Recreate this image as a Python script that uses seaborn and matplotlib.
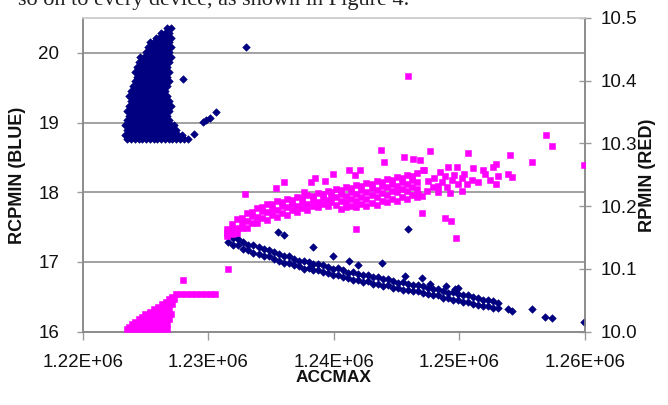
import matplotlib
matplotlib.use("Agg")
import matplotlib.pyplot as plt
import pandas as pd
import seaborn as sns

# ---------------- data (x in thousands of ACCMAX) ----------------
# Blue (RCPMIN, left axis): dense cluster, read row by row
BLUE_BLOB_Y = [20.36, 20.29, 20.22, 20.15, 20.08, 20.01, 19.94, 19.87, 19.80, 19.73,
               19.66, 19.59, 19.52, 19.45, 19.38, 19.31, 19.24, 19.17, 19.10, 19.03,
               18.96, 18.89, 18.82, 18.76]
BLUE_BLOB_X = [
    [1226.7, 1227.0],
    [1226.25, 1226.55, 1226.85],
    [1225.8, 1226.1, 1226.4, 1226.7, 1227.0],
    [1225.35, 1225.65, 1225.95, 1226.25, 1226.55, 1226.85],
    [1225.2, 1225.5, 1225.8, 1226.1, 1226.4, 1226.7, 1227.0],
    [1225.05, 1225.35, 1225.65, 1225.95, 1226.25, 1226.55, 1226.85],
    [1224.6, 1224.9, 1225.2, 1225.5, 1225.8, 1226.1, 1226.4, 1226.7, 1227.0],
    [1224.45, 1224.75, 1225.05, 1225.35, 1225.65, 1225.95, 1226.25, 1226.55, 1226.85],
    [1224.3, 1224.6, 1224.9, 1225.2, 1225.5, 1225.8, 1226.1, 1226.4, 1226.7],
    [1224.15, 1224.45, 1224.75, 1225.05, 1225.35, 1225.65, 1225.95, 1226.25, 1226.55, 1226.85],
    [1224.3, 1224.6, 1224.9, 1225.2, 1225.5, 1225.8, 1226.1, 1226.4, 1226.7],
    [1224.15, 1224.45, 1224.75, 1225.05, 1225.35, 1225.65, 1225.95, 1226.25, 1226.55, 1226.85],
    [1224.0, 1224.3, 1224.6, 1224.9, 1225.2, 1225.5, 1225.8, 1226.1, 1226.4, 1226.7],
    [1223.85, 1224.15, 1224.45, 1224.75, 1225.05, 1225.35, 1225.65, 1225.95, 1226.25, 1226.55],
    [1223.7, 1224.0, 1224.3, 1224.6, 1224.9, 1225.2, 1225.5, 1225.8, 1226.1, 1226.4, 1226.7],
    [1223.85, 1224.15, 1224.45, 1224.75, 1225.05, 1225.35, 1225.65, 1225.95, 1226.25, 1226.55, 1226.85],
    [1223.7, 1224.0, 1224.3, 1224.6, 1224.9, 1225.2, 1225.5, 1225.8, 1226.1, 1226.4, 1226.7, 1227.0],
    [1223.55, 1223.85, 1224.15, 1224.45, 1224.75, 1225.05, 1225.35, 1225.65, 1225.95, 1226.25, 1226.55, 1226.85],
    [1223.7, 1224.0, 1224.3, 1224.6, 1224.9, 1225.2, 1225.5, 1225.8, 1226.1, 1226.4, 1226.7],
    [1223.55, 1223.85, 1224.15, 1224.45, 1224.75, 1225.05, 1225.35, 1225.65, 1225.95, 1226.25, 1226.55, 1226.85],
    [1223.4, 1223.7, 1224.0, 1224.3, 1224.6, 1224.9, 1225.2, 1225.5, 1225.8, 1226.1, 1226.4, 1226.7, 1227.0, 1227.3],
    [1223.55, 1223.85, 1224.15, 1224.45, 1224.75, 1225.05, 1225.35, 1225.65, 1225.95, 1226.25, 1226.55, 1226.85, 1227.15, 1227.45],
    [1223.4, 1223.7, 1224.0, 1224.3, 1224.6, 1224.9, 1225.2, 1225.5, 1225.8, 1226.1, 1226.4, 1226.7, 1227.0, 1227.3, 1227.6, 1227.9],
    [1223.55, 1223.85, 1224.15, 1224.45, 1224.75, 1225.05, 1225.35, 1225.65, 1225.95, 1226.25, 1226.55, 1226.85, 1227.15, 1227.45, 1227.75, 1228.05, 1228.35],
]

# Blue descending band: x, upper and lower point of each column
BLUE_BAND_X = [1231.6, 1232.0, 1232.4, 1232.8, 1233.2, 1233.6, 1234.0, 1234.4, 1234.8, 1235.2,
               1235.6, 1236.0, 1236.4, 1236.8, 1237.2, 1237.6, 1238.0, 1238.3, 1238.7, 1239.1,
               1239.5, 1239.9, 1240.3, 1240.7, 1241.1, 1241.5, 1241.9, 1242.3, 1242.7, 1243.1,
               1243.5, 1243.9, 1244.3, 1244.7, 1245.1, 1245.5, 1245.9, 1246.3, 1246.7, 1247.1,
               1247.5, 1247.9, 1248.3, 1248.7, 1249.1, 1249.5, 1249.9, 1250.3, 1250.7, 1251.1,
               1251.5, 1251.9, 1252.3, 1252.7, 1253.1]
BLUE_BAND_HI = [17.38, 17.34, 17.33, 17.29, 17.24, 17.25, 17.21, 17.18, 17.17, 17.14,
                17.11, 17.08, 17.08, 17.05, 17.01, 17.02, 17.00, 16.97, 16.97, 16.95,
                16.93, 16.90, 16.91, 16.88, 16.84, 16.86, 16.83, 16.81, 16.82, 16.79,
                16.78, 16.75, 16.76, 16.73, 16.70, 16.72, 16.69, 16.67, 16.67, 16.65,
                16.63, 16.61, 16.61, 16.59, 16.56, 16.57, 16.54, 16.52, 16.52, 16.50,
                16.48, 16.46, 16.46, 16.44, 16.41]
BLUE_BAND_LO = [17.29, 17.25, 17.24, 17.19, 17.17, 17.13, 17.12, 17.09, 17.08, 17.04,
                17.02, 16.99, 16.99, 16.95, 16.94, 16.90, 16.91, 16.88, 16.88, 16.85,
                16.84, 16.81, 16.82, 16.78, 16.77, 16.74, 16.74, 16.72, 16.73, 16.69,
                16.69, 16.66, 16.67, 16.63, 16.63, 16.60, 16.60, 16.58, 16.58, 16.55,
                16.54, 16.52, 16.52, 16.49, 16.49, 16.45, 16.45, 16.43, 16.43, 16.40,
                16.39, 16.37, 16.37, 16.34, 16.34]
# isolated blue points
BLUE_EXTRA_X = [1228.0, 1228.9, 1229.6, 1229.8, 1230.1, 1230.6, 1233.0,
                1235.55, 1236.0, 1238.3, 1239.95, 1241.2, 1241.95, 1243.8, 1245.65,
                1247.0, 1247.65, 1248.9, 1249.65, 1249.9, 1245.9,
                1253.9, 1254.15, 1255.8, 1256.85, 1257.4, 1259.95]
BLUE_EXTRA_Y = [19.62, 18.84, 19.01, 19.04, 19.06, 19.15, 20.08,
                17.43, 17.38, 17.21, 17.09, 17.02, 16.96, 16.98, 16.80,
                16.77, 16.69, 16.65, 16.61, 16.63, 17.47,
                16.32, 16.30, 16.33, 16.21, 16.19, 16.14]

# Magenta (RPMIN, right axis): low cluster, row by row
MAG_BLOB_Y = [10.004, 10.012, 10.020, 10.028, 10.036, 10.044, 10.052, 10.060]
MAG_BLOB_X = [
    [1223.5, 1223.9, 1224.3, 1224.7, 1225.1, 1225.5, 1225.9, 1226.3, 1226.7],
    [1223.9, 1224.3, 1224.7, 1225.1, 1225.5, 1225.9, 1226.3, 1226.7],
    [1224.5, 1224.9, 1225.3, 1225.7, 1226.1, 1226.5, 1226.9],
    [1225.0, 1225.4, 1225.8, 1226.2, 1226.6, 1227.0],
    [1225.7, 1226.1, 1226.5, 1226.9],
    [1226.3, 1226.7, 1227.1],
    [1226.9, 1227.3],
    [1227.4, 1227.8, 1228.2, 1228.6, 1229.0, 1229.4, 1229.8, 1230.2, 1230.5],
]
MAG_BLOB_EDGE_X = [1223.7, 1224.2, 1224.75, 1225.35, 1226.0, 1226.6, 1227.15]
MAG_BLOB_EDGE_Y = [10.008, 10.016, 10.024, 10.032, 10.040, 10.048, 10.056]

# Magenta rising band: columns with up to four points
MAG_BAND_X = [1231.5, 1231.9, 1232.3, 1232.7, 1233.1, 1233.5, 1233.9, 1234.3, 1234.7, 1235.1,
              1235.5, 1235.9, 1236.3, 1236.7, 1237.1, 1237.5, 1237.9, 1238.3, 1238.7, 1239.1,
              1239.5, 1239.8, 1240.2, 1240.6, 1241.0, 1241.4, 1241.8, 1242.2, 1242.6, 1243.0,
              1243.4, 1243.8, 1244.2, 1244.6, 1245.0, 1245.4, 1245.8, 1246.2, 1246.6]
MAG_BAND_TOP = [10.163, 10.172, 10.179, 10.181, 10.189, 10.190, 10.197, 10.199, 10.204, 10.203,
                10.208, 10.206, 10.211, 10.210, 10.215, 10.213, 10.218, 10.216, 10.221, 10.219,
                10.224, 10.222, 10.227, 10.226, 10.231, 10.229, 10.234, 10.232, 10.237, 10.235,
                10.240, 10.238, 10.243, 10.241, 10.247, 10.245, 10.250, 10.248, 10.253]
MAG_BAND_MID = [10.158, 10.163, 10.166, 10.174, 10.176, 10.184, 10.183, 10.192, 10.190, 10.195,
                10.194, 10.200, 10.198, 10.203, 10.201, 10.206, 10.204, 10.210, 10.207, 10.213,
                10.210, 10.216, 10.214, 10.219, 10.217, 10.222, 10.220, 10.226, 10.223, 10.229,
                10.226, 10.232, 10.230, 10.235, 10.233, 10.238, 10.236, 10.242, 10.239]
MAG_BAND_BOT = [10.153, 10.155, 10.157, 10.165, 10.166, 10.174, 10.174, 10.181, 10.178, 10.186,
                10.183, 10.189, 10.186, 10.194, 10.191, 10.197, 10.194, 10.200, 10.198, 10.203,
                10.201, 10.206, 10.202, 10.208, 10.207, 10.211, 10.209, 10.214, 10.212, 10.218,
                10.215, 10.221, 10.218, 10.224, 10.222, 10.227, 10.225, 10.230, 10.228]
MAG_BAND4_X = [1240.6, 1241.0, 1241.4, 1241.8, 1242.2, 1242.6, 1243.0, 1243.4,
               1243.8, 1244.2, 1244.6, 1245.0, 1245.4, 1245.8, 1246.2, 1246.6]
MAG_BAND4_Y = [10.196, 10.198, 10.201, 10.198, 10.203, 10.201, 10.205, 10.202,
               10.208, 10.206, 10.211, 10.209, 10.214, 10.212, 10.218, 10.215]
# isolated magenta points
MAG_EXTRA_X = [1228.0, 1231.55, 1232.9, 1235.4, 1236.0, 1237.6, 1238.2, 1238.5, 1239.3, 1239.95,
               1241.2, 1241.7, 1242.1, 1243.75, 1244.0, 1245.6, 1245.9, 1246.3, 1246.85, 1247.65,
               1247.1, 1248.45, 1249.1, 1249.8, 1250.7, 1251.05, 1251.9, 1252.0, 1252.7, 1252.95,
               1253.1, 1252.4, 1252.95, 1251.5, 1250.97, 1250.6, 1254.0, 1253.9, 1254.15, 1255.75,
               1256.9, 1257.4, 1259.94, 1250.2, 1249.6, 1249.4, 1248.85, 1248.3, 1248.3, 1249.25,
               1250.2, 1247.0, 1246.7, 1247.0, 1248.85, 1249.3, 1249.7, 1241.8, 1247.2, 1247.5,
               1247.9, 1248.0, 1248.6, 1249.0, 1249.9, 1250.4, 1247.4]
MAG_EXTRA_Y = [10.083, 10.100, 10.220, 10.229, 10.238, 10.222, 10.238, 10.245, 10.240, 10.252,
               10.257, 10.249, 10.258, 10.289, 10.270, 10.278, 10.408, 10.276, 10.273, 10.288,
               10.257, 10.254, 10.262, 10.263, 10.285, 10.261, 10.257, 10.252, 10.262, 10.268,
               10.248, 10.241, 10.236, 10.238, 10.241, 10.236, 10.282, 10.252, 10.246, 10.270,
               10.313, 10.296, 10.266, 10.245, 10.249, 10.241, 10.248, 10.233, 10.222, 10.221,
               10.224, 10.216, 10.220, 10.189, 10.182, 10.176, 10.149, 10.164, 10.257, 10.240,
               10.230, 10.245, 10.238, 10.230, 10.235, 10.252, 10.225]

X_TICKS = [1220000, 1230000, 1240000, 1250000, 1260000]
X_TICK_LABELS = ["1.22E+06", "1.23E+06", "1.24E+06", "1.25E+06", "1.26E+06"]
LEFT_TICKS = [16, 17, 18, 19, 20]
RIGHT_TICKS = [10.0, 10.1, 10.2, 10.3, 10.4, 10.5]
RIGHT_TICK_LABELS = ["10.0", "10.1", "10.2", "10.3", "10.4", "10.5"]
CAPTION_FRAGMENT = "so on to every device, as shown in Figure 4."

# ---------------- build tables ----------------
bx, by = [], []
for yv, row in zip(BLUE_BLOB_Y, BLUE_BLOB_X):
    bx += row
    by += [yv] * len(row)
bx += BLUE_BAND_X + BLUE_BAND_X + BLUE_EXTRA_X
by += BLUE_BAND_HI + BLUE_BAND_LO + BLUE_EXTRA_Y
blue = pd.DataFrame({"ACCMAX": [v * 1000 for v in bx], "RCPMIN": by})

mx, my = [], []
for yv, row in zip(MAG_BLOB_Y, MAG_BLOB_X):
    mx += row
    my += [yv] * len(row)
mx += MAG_BLOB_EDGE_X + MAG_BAND_X * 3 + MAG_BAND4_X + MAG_EXTRA_X
my += MAG_BLOB_EDGE_Y + MAG_BAND_TOP + MAG_BAND_MID + MAG_BAND_BOT + MAG_BAND4_Y + MAG_EXTRA_Y
mag = pd.DataFrame({"ACCMAX": [v * 1000 for v in mx], "RPMIN": my})

# ---------------- figure ----------------
sns.set_style("white")
plt.rcParams["font.family"] = ["Liberation Sans", "DejaVu Sans"]

W, H = 668, 405
fig = plt.figure(figsize=(W / 100, H / 100), dpi=100)
L, R, T, B = 82.7, 585.0, 18.0, 331.7
ax = fig.add_axes([L / W, 1 - B / H, (R - L) / W, (B - T) / H])
ax2 = ax.twinx()

NAVY = "#000080"
MAGENTA = "#FF00FF"
sns.scatterplot(data=blue, x="ACCMAX", y="RCPMIN", ax=ax, marker="D", s=15,
                color=NAVY, edgecolor=NAVY, linewidth=0.4, zorder=3)
sns.scatterplot(data=mag, x="ACCMAX", y="RPMIN", ax=ax2, marker="s", s=21,
                color=MAGENTA, edgecolor=MAGENTA, linewidth=0.4, zorder=3)

ax.set_xlim(1220000, 1260000)
ax.set_ylim(16, 20.5)
ax2.set_ylim(10.0, 10.5)

GRID = "#9a9a9a"
ax.set_yticks(LEFT_TICKS)
ax.set_yticklabels([str(t) for t in LEFT_TICKS])
ax.set_xticks(X_TICKS)
ax.set_xticklabels(X_TICK_LABELS)
ax2.set_yticks(RIGHT_TICKS)
ax2.set_yticklabels(RIGHT_TICK_LABELS)
for a in (ax, ax2):
    a.set_xlabel("")
    a.set_ylabel("")

ax.yaxis.grid(True, color=GRID, linewidth=1.3)
ax.set_axisbelow(True)
ax.xaxis.grid(False)

ax.tick_params(axis="y", direction="out", length=4.5, width=1, color=GRID,
               pad=12.5, labelsize=13.5, labelcolor="#111111", left=True)
ax.tick_params(axis="x", direction="out", length=5.5, width=1, color=GRID,
               pad=10.5, labelsize=13.5, labelcolor="#111111", bottom=True)
ax2.tick_params(axis="y", direction="inout", length=9, width=1, color=GRID,
                pad=6.5, labelsize=13.5, labelcolor="#111111", right=True)

for a in (ax, ax2):
    for side in ("left", "right", "bottom"):
        a.spines[side].set_color("#8c8c8c")
        a.spines[side].set_linewidth(1.2)
    a.spines["top"].set_color("#cfcfcf")
    a.spines["top"].set_linewidth(1.2)

fig.text(18 / W, 1 - 175 / H, "RCPMIN (BLUE)", rotation=90, ha="center", va="center",
         fontsize=13, fontweight="bold", color="#111111")
fig.text(647 / W, 1 - 175 / H, "RPMIN (RED)", rotation=90, ha="center", va="center",
         fontsize=13, fontweight="bold", color="#111111")
fig.text(334 / W, 1 - 378 / H, "ACCMAX", ha="center", va="center",
         fontsize=12.5, fontweight="bold", color="#111111")
# partial line of the surrounding document text, cut by the top edge (as in the source)
fig.text(18 / W, 1 - 5 / H, CAPTION_FRAGMENT, ha="left", va="baseline",
         fontsize=16, family=["Liberation Serif", "DejaVu Serif"], color="#222222")

fig.savefig("out.png", dpi=100)
